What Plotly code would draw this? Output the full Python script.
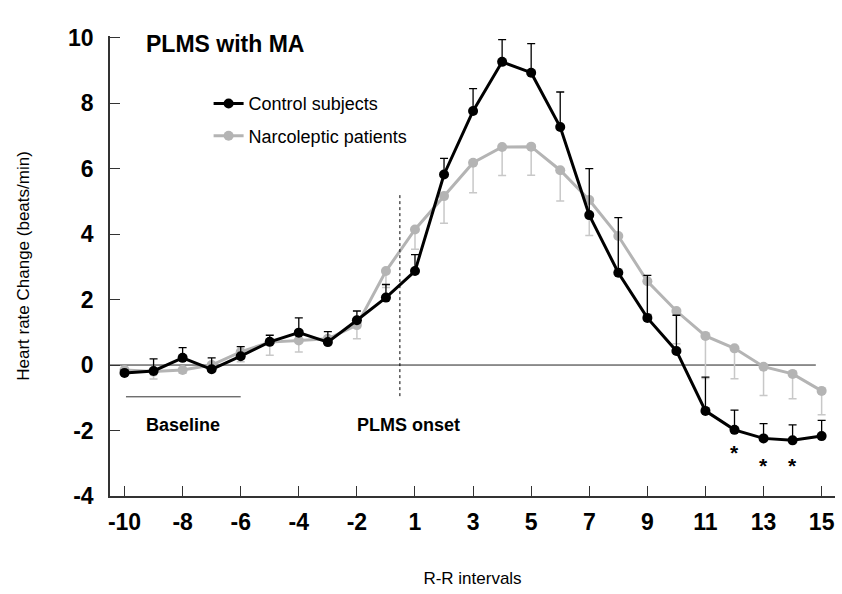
import plotly.graph_objects as go

# ---------------- data ----------------
categories = ["-10", "-9", "-8", "-7", "-6", "-5", "-4", "-3", "-2", "-1",
              "1", "2", "3", "4", "5", "6", "7", "8", "9", "10",
              "11", "12", "13", "14", "15"]
tick_labels = categories[::2]
y_tick_vals = [-4, -2, 0, 2, 4, 6, 8, 10]
y_tick_text = ["-4", "-2", "0", "2", "4", "6", "8", "10"]

control_mean = [-0.24, -0.18, 0.22, -0.13, 0.27, 0.71, 0.99, 0.70, 1.37, 2.06,
                2.87, 5.82, 7.76, 9.26, 8.93, 7.27, 4.58, 2.82, 1.44, 0.43,
                -1.40, -1.98, -2.24, -2.30, -2.17]
control_err = [0.0, 0.37, 0.31, 0.35, 0.29, 0.20, 0.45, 0.32, 0.28, 0.40,
               0.50, 0.49, 0.68, 0.68, 0.89, 1.07, 1.42, 1.68, 1.30, 1.09,
               1.03, 0.60, 0.45, 0.47, 0.48]

narco_mean = [-0.15, -0.20, -0.15, 0.00, 0.40, 0.70, 0.75, 0.80, 1.22, 2.87,
              4.14, 5.16, 6.18, 6.66, 6.67, 5.95, 5.04, 3.94, 2.56, 1.65,
              0.89, 0.51, -0.05, -0.27, -0.79]
narco_err = [0.10, 0.23, 0.10, 0.10, 0.30, 0.40, 0.35, 0.10, 0.42, 0.50,
             0.60, 0.83, 0.92, 0.87, 0.87, 0.94, 1.08, 1.00, 1.00, 1.00,
             1.30, 0.93, 0.88, 0.76, 0.73]

signif_top = ["4"]
signif_bottom = ["12", "13", "14"]

FONT = "Liberation Sans, Arial, sans-serif"
BLACK = "#000000"
GRAY = "#b4b4b4"
GRAY_ERR = "#c8c8c8"

fig = go.Figure()

fig.add_trace(go.Scatter(
    x=categories, y=narco_mean, mode="lines+markers",
    name="Narcoleptic patients", legendgroup="n", legendrank=2,
    line=dict(color=GRAY, width=3),
    marker=dict(color=GRAY, size=10),
    error_y=dict(type="data", symmetric=False, array=[0] * len(narco_err),
                 arrayminus=narco_err, color=GRAY_ERR, thickness=1.5, width=4),
))
fig.add_trace(go.Scatter(
    x=categories, y=control_mean, mode="lines+markers",
    name="Control subjects", legendgroup="c", legendrank=1,
    line=dict(color=BLACK, width=3),
    marker=dict(color=BLACK, size=10),
    error_y=dict(type="data", symmetric=False, array=control_err,
                 arrayminus=[0] * len(control_err), color=BLACK, thickness=1.3, width=4),
))

idx = {c: i for i, c in enumerate(categories)}

shapes = [
    # zero line
    dict(type="line", xref="x", yref="y", x0=-0.5, x1=23.8, y0=0, y1=0,
         line=dict(color="#222222", width=1), layer="below"),
    # baseline bracket
    dict(type="line", xref="x", yref="y", x0=idx["-10"] + 0.05, x1=idx["-6"], y0=-0.97, y1=-0.97,
         line=dict(color="#333333", width=1)),
    # PLMS onset dashed line
    dict(type="line", xref="x", yref="y", x0=9.48, x1=9.48, y0=-0.95, y1=5.25,
         line=dict(color=BLACK, width=1, dash="3px,3px")),
]

annotations = [
    dict(text="<b>PLMS with MA</b>", xref="paper", yref="paper", x=0.158, y=0.983,
         showarrow=False, font=dict(family=FONT, size=23, color=BLACK),
         xanchor="center", yanchor="middle"),
    dict(text="<b>Baseline</b>", xref="x", yref="y", x=2.0, y=-1.83,
         showarrow=False, font=dict(family=FONT, size=18, color=BLACK)),
    dict(text="<b>PLMS onset</b>", xref="x", yref="y", x=9.76, y=-1.83,
         showarrow=False, font=dict(family=FONT, size=18, color=BLACK)),
]
for c in signif_top:
    annotations.append(dict(text="<b>*</b>", xref="x", yref="y", x=idx[c], y=10.5,
                            showarrow=False, font=dict(family=FONT, size=21, color=BLACK)))
for c, yv in zip(signif_bottom, [-2.68, -3.08, -3.08]):
    annotations.append(dict(text="<b>*</b>", xref="x", yref="y", x=idx[c], y=yv,
                            showarrow=False, font=dict(family=FONT, size=21, color=BLACK)))

fig.update_layout(
    width=842, height=594,
    margin=dict(l=110, r=7, t=36, b=98),
    paper_bgcolor="white", plot_bgcolor="white",
    font=dict(family=FONT, color=BLACK),
    shapes=shapes, annotations=annotations,
    showlegend=True,
    legend=dict(x=0.136, y=0.893, xanchor="left", yanchor="top",
                font=dict(family=FONT, size=18, color=BLACK),
                bgcolor="rgba(0,0,0,0)", traceorder="grouped", tracegroupgap=6),
)
fig.update_xaxes(
    type="category", range=[-0.5, 24.46], automargin=False,
    tickmode="array", tickvals=tick_labels, ticktext=tick_labels,
    ticks="inside", ticklen=10, tickcolor="#333333", tickwidth=1,
    showline=True, linecolor="#333333", linewidth=1.5,
    showgrid=False, zeroline=False,
    tickfont=dict(family=FONT, size=23, color=BLACK, weight="bold"),
    ticklabelstandoff=5,
    title=dict(text="R-R intervals", font=dict(family=FONT, size=17, color=BLACK), standoff=38),
)
fig.update_yaxes(
    range=[-4, 10.05], tickmode="array", tickvals=y_tick_vals, ticktext=y_tick_text,
    automargin=False,
    ticks="inside", ticklen=10, tickcolor="#333333", tickwidth=1,
    showline=True, linecolor="#333333", linewidth=1.5,
    showgrid=False, zeroline=False,
    tickfont=dict(family=FONT, size=23, color=BLACK, weight="bold"),
    ticklabelstandoff=10,
    title=dict(text="Heart rate Change (beats/min)", font=dict(family=FONT, size=17, color=BLACK), standoff=34),
)

fig.write_html("out.html", config={"displayModeBar": False},
               post_script="document.body.style.margin='0';document.body.style.overflow='hidden';")
